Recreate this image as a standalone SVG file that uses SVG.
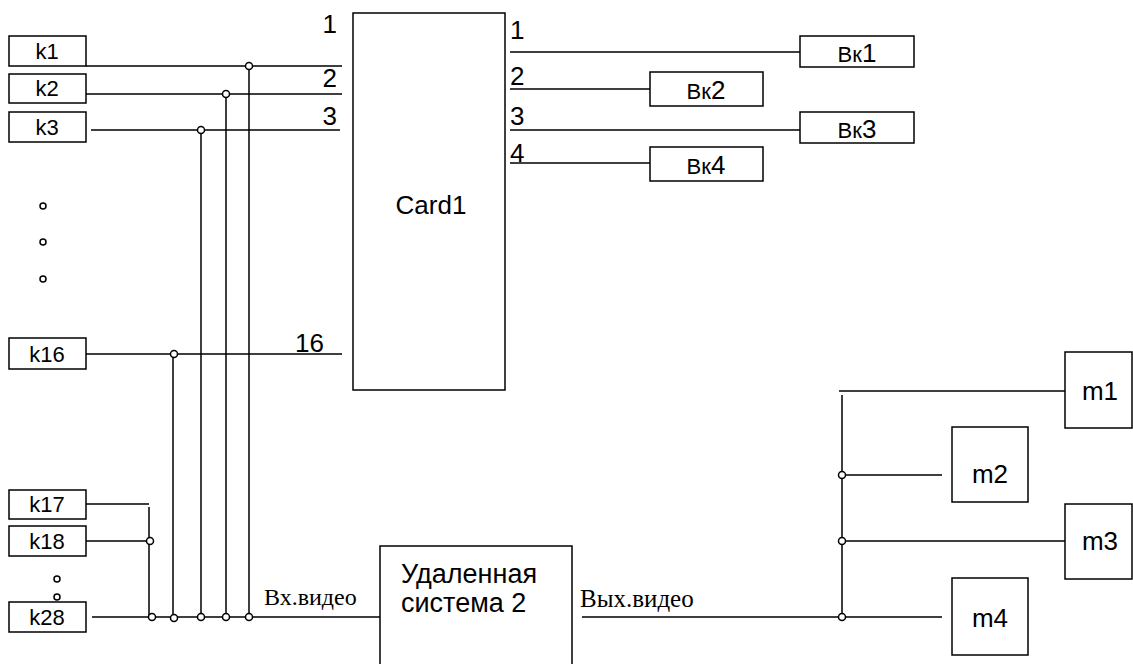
<svg xmlns="http://www.w3.org/2000/svg" width="1133" height="664" viewBox="0 0 1133 664">
<style>
.b{fill:#fff;stroke:#000;stroke-width:1.5}
.w{fill:none;stroke:#000;stroke-width:1.5}
.d{fill:#fff;stroke:#000;stroke-width:1.5}
.t{font-family:"Liberation Sans",Arial,sans-serif;fill:#000}
.s{font-family:"Liberation Serif","Times New Roman",serif;fill:#000}
.k{font-size:22px;text-anchor:middle}
.n{font-size:26px}
.v{font-size:22px;text-anchor:middle}
.v tspan{font-size:26px}
.m{font-size:26px;text-anchor:middle}
</style>
<rect width="1133" height="664" fill="#fff"/>
<g id="connectors">
<path class="w" d="M86 66H342M86 94H342M91 130H340M86 354H342M86 504H149M149 507V617M86 541H150M92 617H380M173 354V617M201 130V617M226 94V617M249 66V617"/>
<path class="w" d="M510 52H800M510 89H650M510 130H800M510 163H650"/>
<path class="w" d="M582 617H942M839 391H1065M842 395V617M842 475H942M842 541H1065"/>
</g>
<g id="dots">
<circle class="d" cx="249" cy="66" r="3.5"/>
<circle class="d" cx="226" cy="94" r="3.5"/>
<circle class="d" cx="201" cy="130" r="3.5"/>
<circle class="d" cx="174" cy="354" r="3.5"/>
<circle class="d" cx="150" cy="541" r="3.5"/>
<circle class="d" cx="152" cy="617" r="3.5"/>
<circle class="d" cx="174" cy="618" r="3.5"/>
<circle class="d" cx="201" cy="617" r="3.5"/>
<circle class="d" cx="226" cy="617" r="3.5"/>
<circle class="d" cx="249" cy="617" r="3.5"/>
<circle class="d" cx="842" cy="475" r="3.5"/>
<circle class="d" cx="842" cy="541" r="3.5"/>
<circle class="d" cx="842" cy="617" r="3.5"/>
<circle class="d" cx="43" cy="206" r="3"/>
<circle class="d" cx="43" cy="242" r="3"/>
<circle class="d" cx="43" cy="279" r="3"/>
<circle class="d" cx="57" cy="579" r="3"/>
<circle class="d" cx="57" cy="597" r="3"/>
</g>
<g id="k1"><rect class="b" x="9" y="36" width="77" height="30"/><text class="t k" x="47" y="59">k1</text></g>
<g id="k2"><rect class="b" x="9" y="74" width="77" height="29"/><text class="t k" x="47" y="96">k2</text></g>
<g id="k3"><rect class="b" x="9" y="112" width="77" height="30"/><text class="t k" x="47" y="135">k3</text></g>
<g id="k16"><rect class="b" x="9" y="338" width="77" height="31"/><text class="t k" x="47" y="362">k16</text></g>
<g id="k17"><rect class="b" x="9" y="490" width="77" height="29"/><text class="t k" x="47" y="512">k17</text></g>
<g id="k18"><rect class="b" x="9" y="526" width="77" height="30"/><text class="t k" x="47" y="549">k18</text></g>
<g id="k28"><rect class="b" x="9" y="602" width="77" height="30"/><text class="t k" x="47" y="625">k28</text></g>
<g id="card1">
<rect class="b" x="353" y="13" width="152" height="377"/>
<text class="t" x="431" y="214" font-size="26" text-anchor="middle">Card1</text>
</g>
<g id="pin-labels" class="t n">
<text x="337" y="33" text-anchor="end">1</text>
<text x="337" y="87" text-anchor="end">2</text>
<text x="337" y="125" text-anchor="end">3</text>
<text x="295" y="352">16</text>
<text x="510" y="39">1</text>
<text x="510" y="85">2</text>
<text x="510" y="125">3</text>
<text x="510" y="162">4</text>
</g>
<g id="vk1"><rect class="b" x="800" y="36" width="114" height="31"/><text class="t v" x="857" y="62">Вк<tspan>1</tspan></text></g>
<g id="vk2"><rect class="b" x="650" y="72" width="113" height="34"/><text class="t v" x="706" y="99">Вк<tspan>2</tspan></text></g>
<g id="vk3"><rect class="b" x="800" y="112" width="114" height="31"/><text class="t v" x="857" y="138">Вк<tspan>3</tspan></text></g>
<g id="vk4"><rect class="b" x="650" y="147" width="113" height="34"/><text class="t v" x="706" y="174">Вк<tspan>4</tspan></text></g>
<g id="remote">
<rect class="b" x="380" y="546" width="192" height="130"/>
<text class="t" x="401" y="583" font-size="27">Удаленная</text>
<text class="t" x="401" y="612" font-size="27">система 2</text>
</g>
<text class="s" x="264" y="605" font-size="24">Вх.видео</text>
<text class="s" x="580" y="607" font-size="25">Вых.видео</text>
<g id="m1"><rect class="b" x="1065" y="352" width="67" height="76"/><text class="t m" x="1100" y="400">m1</text></g>
<g id="m2"><rect class="b" x="952" y="427" width="76" height="75"/><text class="t m" x="990" y="483">m2</text></g>
<g id="m3"><rect class="b" x="1065" y="504" width="67" height="75"/><text class="t m" x="1100" y="550">m3</text></g>
<g id="m4"><rect class="b" x="952" y="578" width="76" height="77"/><text class="t m" x="990" y="627">m4</text></g>
</svg>
